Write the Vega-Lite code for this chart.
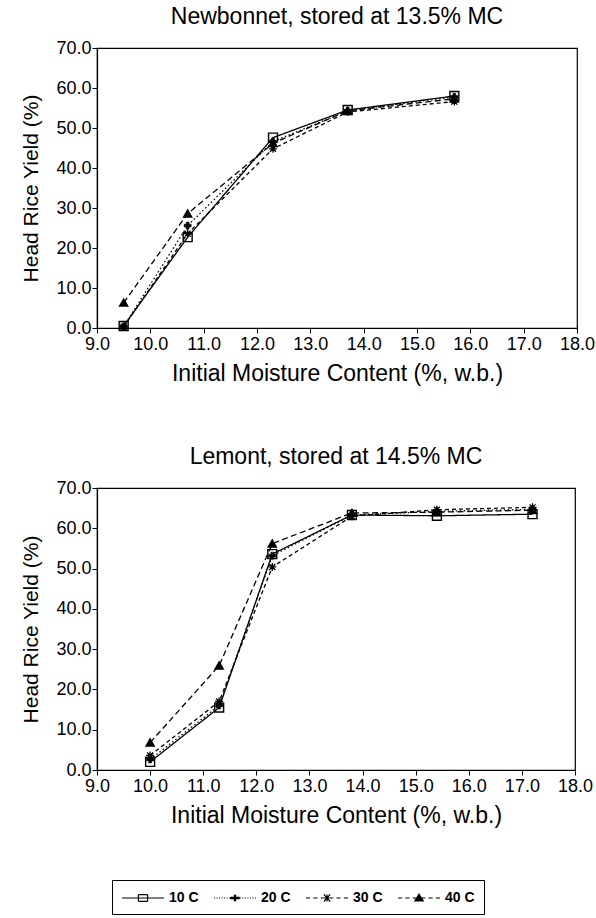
{
  "$schema": "https://vega.github.io/schema/vega-lite/v6.json",
  "background": "white",
  "padding": {"left": 20, "top": 5, "right": 0, "bottom": 120},
  "spacing": 160,
  "bounds": "flush",
  "resolve": {"scale": {"shape": "independent"}, "legend": {"shape": "independent"}},
  "config": {
    "font": "Liberation Sans",
    "mark": {"color": "black"},
    "view": {"stroke": "black", "strokeWidth": 1.2},
    "axis": {
      "grid": false,
      "labelFlush": false,
      "labelOverlap": false,
      "domainColor": "black",
      "domainWidth": 1.2,
      "tickColor": "black",
      "tickSize": 5,
      "labelColor": "black",
      "labelFont": "Liberation Sans",
      "labelFontSize": 18,
      "titleFont": "Liberation Sans",
      "titleFontSize": 23,
      "titleFontWeight": "normal",
      "titleColor": "black"
    },
    "title": {"font": "Liberation Sans", "fontSize": 23, "fontWeight": "normal", "color": "black", "offset": 10}
  },
  "datasets": {
    "rice": [
      {"variety": "Newbonnet", "series": "10 C", "mc": 9.5, "hry": 0.5},
      {"variety": "Newbonnet", "series": "10 C", "mc": 10.7, "hry": 22.7},
      {"variety": "Newbonnet", "series": "10 C", "mc": 12.3, "hry": 47.6},
      {"variety": "Newbonnet", "series": "10 C", "mc": 13.7, "hry": 54.5},
      {"variety": "Newbonnet", "series": "10 C", "mc": 15.7, "hry": 58.0},
      {"variety": "Newbonnet", "series": "20 C", "mc": 9.5, "hry": 0.4},
      {"variety": "Newbonnet", "series": "20 C", "mc": 10.7, "hry": 25.6},
      {"variety": "Newbonnet", "series": "20 C", "mc": 12.3, "hry": 46.6},
      {"variety": "Newbonnet", "series": "20 C", "mc": 13.7, "hry": 54.3},
      {"variety": "Newbonnet", "series": "20 C", "mc": 15.7, "hry": 57.8},
      {"variety": "Newbonnet", "series": "30 C", "mc": 9.5, "hry": 0.3},
      {"variety": "Newbonnet", "series": "30 C", "mc": 10.7, "hry": 23.6},
      {"variety": "Newbonnet", "series": "30 C", "mc": 12.3, "hry": 44.8},
      {"variety": "Newbonnet", "series": "30 C", "mc": 13.7, "hry": 54.0},
      {"variety": "Newbonnet", "series": "30 C", "mc": 15.7, "hry": 56.6},
      {"variety": "Newbonnet", "series": "40 C", "mc": 9.5, "hry": 6.3},
      {"variety": "Newbonnet", "series": "40 C", "mc": 10.7, "hry": 28.6},
      {"variety": "Newbonnet", "series": "40 C", "mc": 12.3, "hry": 46.2},
      {"variety": "Newbonnet", "series": "40 C", "mc": 13.7, "hry": 54.3},
      {"variety": "Newbonnet", "series": "40 C", "mc": 15.7, "hry": 57.3},
      {"variety": "Lemont", "series": "10 C", "mc": 10.0, "hry": 2.0},
      {"variety": "Lemont", "series": "10 C", "mc": 11.3, "hry": 15.5},
      {"variety": "Lemont", "series": "10 C", "mc": 12.3, "hry": 53.6},
      {"variety": "Lemont", "series": "10 C", "mc": 13.8, "hry": 63.3},
      {"variety": "Lemont", "series": "10 C", "mc": 15.4, "hry": 63.1},
      {"variety": "Lemont", "series": "10 C", "mc": 17.2, "hry": 63.5},
      {"variety": "Lemont", "series": "20 C", "mc": 10.0, "hry": 2.6},
      {"variety": "Lemont", "series": "20 C", "mc": 11.3, "hry": 16.0},
      {"variety": "Lemont", "series": "20 C", "mc": 12.3, "hry": 53.2},
      {"variety": "Lemont", "series": "20 C", "mc": 13.8, "hry": 63.3},
      {"variety": "Lemont", "series": "20 C", "mc": 15.4, "hry": 64.2},
      {"variety": "Lemont", "series": "20 C", "mc": 17.2, "hry": 64.7},
      {"variety": "Lemont", "series": "30 C", "mc": 10.0, "hry": 3.6},
      {"variety": "Lemont", "series": "30 C", "mc": 11.3, "hry": 17.0},
      {"variety": "Lemont", "series": "30 C", "mc": 12.3, "hry": 50.4},
      {"variety": "Lemont", "series": "30 C", "mc": 13.8, "hry": 63.0},
      {"variety": "Lemont", "series": "30 C", "mc": 15.4, "hry": 64.6},
      {"variety": "Lemont", "series": "30 C", "mc": 17.2, "hry": 65.2},
      {"variety": "Lemont", "series": "40 C", "mc": 10.0, "hry": 6.8},
      {"variety": "Lemont", "series": "40 C", "mc": 11.3, "hry": 25.9},
      {"variety": "Lemont", "series": "40 C", "mc": 12.3, "hry": 56.2},
      {"variety": "Lemont", "series": "40 C", "mc": 13.8, "hry": 63.8},
      {"variety": "Lemont", "series": "40 C", "mc": 15.4, "hry": 64.0},
      {"variety": "Lemont", "series": "40 C", "mc": 17.2, "hry": 64.5}
    ]
  },
  "vconcat": [
    {
      "title": {"text": "Newbonnet, stored at 13.5% MC"},
      "width": 480,
      "height": 280,
      "data": {"name": "rice"},
      "transform": [{"filter": "datum.variety === 'Newbonnet'"}],
      "encoding": {
        "x": {"field": "mc", "type": "quantitative", "scale": {"domain": [9, 18], "nice": false, "zero": false},
              "axis": {"values": [9,10,11,12,13,14,15,16,17,18], "format": ".1f", "title": "Initial Moisture Content (%, w.b.)", "titlePadding": 9, "labelPadding": 2}},
        "y": {"field": "hry", "type": "quantitative", "scale": {"domain": [0, 70], "nice": false},
              "axis": {"values": [0,10,20,30,40,50,60,70], "format": ".1f", "title": "Head Rice Yield (%)", "titleFontSize": 21, "titlePadding": 14, "labelPadding": 1}}
      },
      "layer": [
        {
          "mark": {"type": "line", "color": "black", "strokeWidth": 1.3},
          "encoding": {
            "detail": {"field": "series"},
            "strokeDash": {"field": "series", "type": "nominal", "legend": null,
                           "scale": {"domain": ["10 C","20 C","30 C","40 C"], "range": [[1,0],[1.5,2.5],[4,3],[6,3.5]]}}
          }
        },
        {"transform": [{"filter": "datum.series === '40 C'"}],
         "mark": {"type": "point", "shape": "triangle-up", "size": 50, "filled": true, "fill": "black", "stroke": "black", "opacity": 1}},
        {"transform": [{"filter": "datum.series === '30 C'"}],
         "mark": {"type": "point", "shape": "M-1,0H1M0,-1V1M-0.75,-0.75L0.75,0.75M-0.75,0.75L0.75,-0.75", "size": 64, "filled": false, "stroke": "black", "strokeWidth": 1.3, "opacity": 1}},
        {"transform": [{"filter": "datum.series === '20 C'"}],
         "mark": {"type": "point", "shape": "cross", "size": 50, "filled": true, "fill": "black", "stroke": "black", "strokeWidth": 0.5, "opacity": 1}},
        {"transform": [{"filter": "datum.series === '10 C'"}],
         "mark": {"type": "point", "shape": "square", "size": 80, "filled": false, "stroke": "black", "strokeWidth": 1.4, "opacity": 1}}
      ]
    },
    {
      "title": {"text": "Lemont, stored at 14.5% MC"},
      "width": 478,
      "height": 282,
      "data": {"name": "rice"},
      "transform": [{"filter": "datum.variety === 'Lemont'"}],
      "encoding": {
        "x": {"field": "mc", "type": "quantitative", "scale": {"domain": [9, 18], "nice": false, "zero": false},
              "axis": {"values": [9,10,11,12,13,14,15,16,17,18], "format": ".1f", "title": "Initial Moisture Content (%, w.b.)", "titlePadding": 9, "labelPadding": 2}},
        "y": {"field": "hry", "type": "quantitative", "scale": {"domain": [0, 70], "nice": false},
              "axis": {"values": [0,10,20,30,40,50,60,70], "format": ".1f", "title": "Head Rice Yield (%)", "titleFontSize": 21, "titlePadding": 14, "labelPadding": 1}}
      },
      "layer": [
        {
          "mark": {"type": "line", "color": "black", "strokeWidth": 1.3},
          "encoding": {
            "detail": {"field": "series"},
            "strokeDash": {"field": "series", "type": "nominal", "legend": null,
                           "scale": {"domain": ["10 C","20 C","30 C","40 C"], "range": [[1,0],[1.5,2.5],[4,3],[6,3.5]]}}
          }
        },
        {"transform": [{"filter": "datum.series === '40 C'"}],
         "mark": {"type": "point", "shape": "triangle-up", "size": 50, "filled": true, "fill": "black", "stroke": "black", "opacity": 1}},
        {"transform": [{"filter": "datum.series === '30 C'"}],
         "mark": {"type": "point", "shape": "M-1,0H1M0,-1V1M-0.75,-0.75L0.75,0.75M-0.75,0.75L0.75,-0.75", "size": 64, "filled": false, "stroke": "black", "strokeWidth": 1.3, "opacity": 1}},
        {"transform": [{"filter": "datum.series === '20 C'"}],
         "mark": {"type": "point", "shape": "cross", "size": 50, "filled": true, "fill": "black", "stroke": "black", "strokeWidth": 0.5, "opacity": 1}},
        {"transform": [{"filter": "datum.series === '10 C'"}],
         "mark": {"type": "point", "shape": "square", "size": 80, "filled": false, "stroke": "black", "strokeWidth": 1.4, "opacity": 1}},
        {
          "mark": {"type": "point", "opacity": 0, "filled": false, "stroke": "black", "strokeWidth": 1.2},
          "encoding": {
            "shape": {
              "field": "series", "type": "nominal",
              "scale": {
                "domain": ["10 C","20 C","30 C","40 C"],
                "range": [
                  "M-1,0H4.25M1.05,-0.42H2.2M2.2,-0.42V0.42M2.2,0.42H1.05M1.05,0.42V-0.42",
                  "M-1,0H-0.87M-0.685,0H-0.555M-0.37,0H-0.24M-0.055,0H0.075M0.26,0H0.39M0.575,0H0.705M0.89,0H2.36M2.545,0H2.675M2.86,0H2.99M3.175,0H3.305M3.49,0H3.62M3.805,0H3.935M4.12,0H4.25M1.045,-0.07H2.205M1.045,0.07H2.205M1.555,-0.42V0.42M1.695,-0.42V0.42",
                  "M-1,0H-0.475M-0.081,0H0.444M0.838,0H2.413M2.806,0H3.331M3.725,0H4.25M1.231,-0.446L2.019,0.446M1.231,0.446L2.019,-0.446M1.625,-0.446V0.446",
                  "M-1,0H-0.475M-0.081,0H0.444M0.838,0H2.413M2.806,0H3.331M3.725,0H4.25M1.1,0.37L1.625,-0.47L2.15,0.37ZM1.175,0.25H2.075M1.25,0.13H2.0M1.331,0H1.919M1.406,-0.12H1.844M1.481,-0.24H1.769M1.556,-0.36H1.694"
                ]
              },
              "legend": {
                "title": null,
                "orient": "none",
                "legendX": 15,
                "legendY": 392,
                "direction": "horizontal",
                "columns": 4,
                "columnPadding": 12,
                "padding": 9,
                "strokeColor": "black",
                "fillColor": "white",
                "symbolSize": 256,
                "symbolStrokeWidth": 1.2,
                "symbolStrokeColor": "black",
                "symbolFillColor": "black",
                "labelFont": "Liberation Sans",
                "labelFontSize": 14,
                "labelFontWeight": "bold",
                "labelColor": "black",
                "labelOffset": 30,
                "encode": {
                  "symbols": {
                    "update": {
                      "opacity": {"value": 1},
                      "stroke": {"value": "black"},
                      "strokeOpacity": {"value": 1},
                      "fillOpacity": {"value": 1},
                      "strokeWidth": {"value": 1.2},
                      "size": {"value": 256},
                      "fill": {"value": "black"}
                    }
                  }
                }
              }
            }
          }
        }
      ]
    }
  ]
}
